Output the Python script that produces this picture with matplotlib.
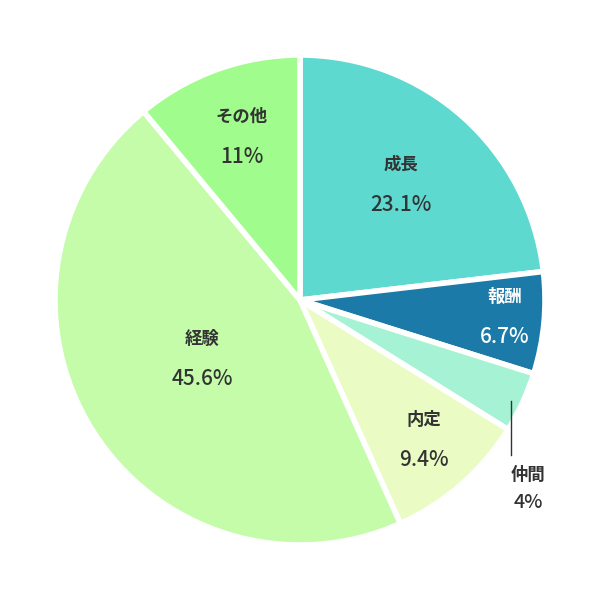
import numpy as np
import matplotlib.pyplot as plt

plt.rcParams['font.family'] = ['Noto Sans CJK JP', 'DejaVu Sans']

labels = ['成長', '報酬', '仲間', '内定', '経験', 'その他']
values = [23.1, 6.7, 4, 9.4, 45.6, 11]
value_text = ['23.1%', '6.7%', '4%', '9.4%', '45.6%', '11%']
colors = ['#5ed9cf', '#1c7aa8', '#a6f2d4', '#eafcc4', '#c4fcaa', '#a0fc8c']
text_colors = ['#333333', 'white', '#333333', '#333333', '#333333', '#333333']
label_r = [0.62, 0.84, None, 0.77, 0.47, 0.70]

fig = plt.figure(figsize=(6, 6), dpi=100)
ax = fig.add_axes([0, 0, 1, 1])
R = 245
ax.pie(values, colors=colors, startangle=90, counterclock=False, radius=R,
       center=(0, 0), wedgeprops=dict(edgecolor='white', linewidth=4))
ax.set_xlim(-300, 300)
ax.set_ylim(-300, 300)
ax.set_aspect('equal')
ax.axis('off')

total = sum(values)
start = 90.0
for lab, val, vt, tc, lr in zip(labels, values, value_text, text_colors, label_r):
    span = val / total * 360
    mid = np.deg2rad(start - span / 2)
    start -= span
    if lr is None:
        x0, y0 = R * 0.985 * np.cos(mid), R * 0.985 * np.sin(mid)
        ax.plot([x0 - 8, x0 - 8], [y0, -155], color='#333333', lw=1)
        ax.text(x0 + 9, -175, lab, ha='center', va='center', fontsize=12.5,
                fontweight='bold', color='#333333')
        ax.text(x0 + 9, -202, vt, ha='center', va='center', fontsize=14,
                fontweight='medium', color='#333333')
        continue
    x, y = R * lr * np.cos(mid), R * lr * np.sin(mid)
    ax.text(x, y + 22, lab, ha='center', va='center', fontsize=12.5,
            fontweight='bold', color=tc)
    ax.text(x, y - 18, vt, ha='center', va='center', fontsize=15,
            fontweight='medium', color=tc)

fig.savefig('out.png', dpi=100)
